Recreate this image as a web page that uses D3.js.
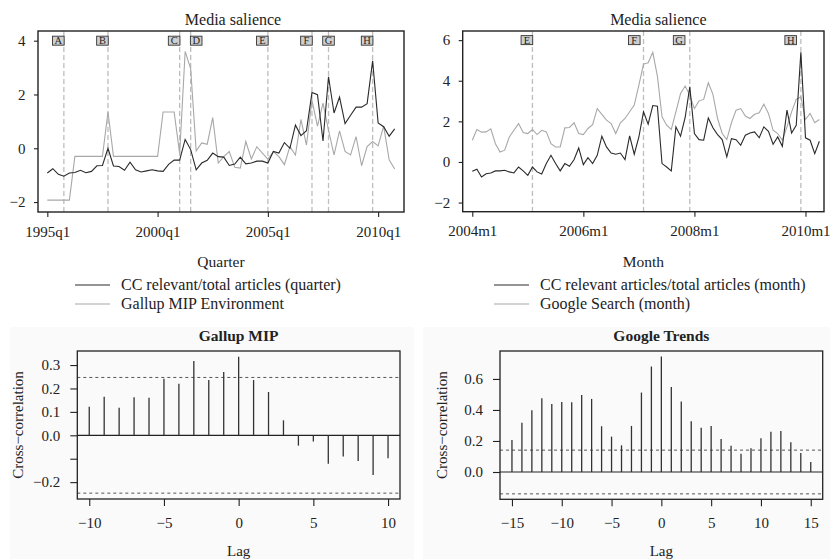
<!DOCTYPE html>
<html>
<head>
<meta charset="utf-8">
<script src="https://cdn.jsdelivr.net/npm/d3@7"></script>
<style>
  body { margin: 0; background: #fff; }
  svg { display: block; font-family: "Liberation Serif", "Times New Roman", serif; }
</style>
</head>
<body>
<svg id="fig" width="830" height="559"></svg>
<script>
// ---- Quarterly series, 1995q1 .. 2010q4 (standardised) ----
const quarterCC = [-0.92,-0.76,-0.97,-1.04,-0.92,-0.90,-0.82,-0.91,-0.86,-0.65,-0.64,0.00,-0.66,-0.68,-0.82,-0.52,
  -0.80,-0.88,-0.84,-0.80,-0.84,-0.86,-0.60,-0.44,-0.44,0.33,-0.05,-0.80,-0.55,-0.45,-0.18,-0.31,
  -0.33,-0.64,-0.59,-0.33,-0.58,-0.55,-0.48,-0.48,-0.55,-0.12,-0.18,0.21,0.00,0.86,0.47,0.65,
  2.07,1.99,0.27,2.66,1.31,1.90,0.92,1.23,1.53,1.53,1.66,3.25,0.94,0.80,0.45,0.72];
const quarterGallup = [-1.93,-1.93,-1.93,-1.93,-1.93,-0.30,-0.30,-0.30,-0.30,-0.30,-0.30,1.35,-0.30,-0.30,-0.30,-0.30,
  -0.30,-0.30,-0.30,-0.30,-0.30,1.35,1.35,1.35,-0.20,3.60,2.95,-0.10,0.20,0.15,1.14,-0.55,
  -0.31,-0.12,-0.71,-0.74,0.25,-0.40,0.06,-0.18,-0.40,-0.12,-0.31,-0.61,0.06,-0.25,1.07,0.12,
  1.78,0.82,1.68,0.67,-0.25,0.65,-0.12,-0.25,0.43,-0.65,0.06,0.25,0.09,0.82,-0.43,-0.77];
const quarterTicks = [0, 20, 40, 60];
const quarterTickLabels = ["1995q1", "2000q1", "2005q1", "2010q1"];
const quarterEvents = [3, 11, 24, 26, 40, 48, 51, 59];
const quarterEventLetters = ["A", "B", "C", "D", "E", "F", "G", "H"];
const quarterLetterAt = [2, 10, 23, 27, 39, 47, 51, 58];

// ---- Monthly series, 2004m1 .. 2010m4 (standardised) ----
const monthCC = [-0.46,-0.36,-0.74,-0.58,-0.54,-0.44,-0.44,-0.41,-0.49,-0.54,-0.25,-0.44,-0.66,-0.25,-0.49,-0.59,
  -0.08,0.33,-0.08,-0.44,-0.08,-0.21,0.12,0.69,-0.13,0.21,-0.08,0.33,1.27,0.74,0.44,0.38,
  0.44,0.12,1.28,0.38,1.23,2.47,1.86,2.78,2.75,-0.08,-0.25,-0.44,1.73,1.27,2.19,3.70,
  1.40,1.10,1.07,2.17,1.68,1.35,1.10,0.25,1.15,1.10,0.82,1.32,1.43,1.48,1.19,1.73,
  1.51,0.87,1.23,0.77,2.55,1.43,1.81,5.40,1.19,1.07,0.41,1.02];
const monthGoogle = [1.07,1.60,1.47,1.48,1.63,0.90,0.49,0.58,1.23,1.56,1.89,1.45,1.40,1.60,1.35,1.56,
  1.48,0.90,0.74,0.74,1.68,1.70,1.93,1.40,1.35,1.65,1.84,2.63,2.34,2.06,1.89,1.40,
  1.93,2.14,2.47,2.80,3.79,4.82,4.89,5.40,4.23,2.22,1.81,1.60,2.47,3.37,3.74,3.29,
  2.63,3.01,3.08,3.90,3.33,2.14,1.40,1.10,1.93,2.55,2.63,2.26,2.14,2.35,2.42,2.85,
  2.39,1.56,1.40,1.07,1.73,2.47,3.08,3.21,2.09,2.39,1.93,2.09];
const monthTicks = [0, 24, 48, 72];
const monthTickLabels = ["2004m1", "2006m1", "2008m1", "2010m1"];
const monthEvents = [13, 37, 47, 71];
const monthEventLetters = ["E", "F", "G", "H"];
const monthLetterAt = [11.8, 35, 44.7, 68.8];

// ---- Cross-correlations ----
const gallupLags = d3.range(-10, 11);
const gallupCCF = [0.122,0.165,0.118,0.163,0.160,0.242,0.220,0.317,0.236,0.270,0.335,
  0.236,0.185,0.064,-0.044,-0.026,-0.121,-0.091,-0.110,-0.170,-0.098];
const gallupCI = 0.247;
const googleLags = d3.range(-15, 16);
const googleCCF = [0.206,0.318,0.398,0.475,0.439,0.452,0.449,0.497,0.471,0.295,0.228,0.172,0.297,0.512,0.680,
  0.744,0.548,0.454,0.327,0.286,0.297,0.213,0.170,0.118,0.153,0.217,0.260,0.265,0.192,0.123,0.065];
const googleCI = 0.141;

const svg = d3.select("#fig");
svg.append("rect").attr("width", 830).attr("height", 559).attr("fill", "#fff");

const INK = "#222";
const GREY_LINE = "#a8a8a8";
const fmtMinus = s => String(s).replace("-", "\u2212");

function styleAxis(a, size) {
  a.attr("font-family", null).attr("font-size", null);
  a.select(".domain").remove();
  a.selectAll("line").attr("stroke", INK).attr("stroke-width", 1.1);
  a.selectAll("text").attr("font-size", size).attr("fill", INK);
}

function timePanel(o) {
  const x = d3.scaleLinear().domain(o.xDomain).range([o.l, o.r]);
  const y = d3.scaleLinear().domain(o.yDomain).range([o.b, o.t]);
  const g = svg.append("g");

  // event markers
  g.selectAll("line.ev").data(o.events).join("line")
    .attr("x1", d => x(d)).attr("x2", d => x(d))
    .attr("y1", o.t).attr("y2", o.b)
    .attr("stroke", "#bdbdbd").attr("stroke-width", 1.3).attr("stroke-dasharray", "5,3");

  const line = d3.line().x((d, i) => x(i)).y(d => y(d));
  g.append("path").datum(o.grey).attr("d", line)
    .attr("fill", "none").attr("stroke", GREY_LINE).attr("stroke-width", 1.1);
  g.append("path").datum(o.black).attr("d", line)
    .attr("fill", "none").attr("stroke", "#2a2a2a").attr("stroke-width", 1.1);

  // event letters
  const lab = g.selectAll("g.lab").data(o.letters).join("g")
    .attr("transform", (d, i) => `translate(${x(o.letterAt[i])},${y(o.letterY)})`);
  lab.append("rect").attr("x", -5.8).attr("y", -4.5).attr("width", 11.6).attr("height", 9)
    .attr("fill", "#cfcfcf").attr("stroke", "#333").attr("stroke-width", 0.9);
  lab.append("text").text(d => d).attr("text-anchor", "middle").attr("y", 3.6)
    .attr("font-size", 10.5).attr("fill", "#222");

  // axes
  const ax = g.append("g").attr("transform", `translate(0,${o.b})`)
    .call(d3.axisBottom(x).tickValues(o.xTicks).tickFormat((d, i) => o.xLabels[i])
      .tickSize(5).tickPadding(9).tickSizeOuter(0));
  const ay = g.append("g").attr("transform", `translate(${o.l},0)`)
    .call(d3.axisLeft(y).tickValues(o.yTicks).tickFormat(d => fmtMinus(d))
      .tickSize(4).tickPadding(8.5).tickSizeOuter(0));
  styleAxis(ax, 15);
  styleAxis(ay, 15);

  g.append("rect").attr("x", o.l).attr("y", o.t).attr("width", o.r - o.l).attr("height", o.b - o.t)
    .attr("fill", "none").attr("stroke", INK).attr("stroke-width", 1.4);

  g.append("text").text("Media salience").attr("x", (o.l + o.r) / 2 + o.titleDx).attr("y", 25)
    .attr("text-anchor", "middle").attr("font-size", 16).attr("fill", INK);
  g.append("text").text(o.xTitle).attr("x", (o.l + o.r) / 2).attr("y", 267)
    .attr("text-anchor", "middle").attr("font-size", 15.5).attr("fill", INK);

  // legend
  const leg = g.selectAll("g.leg").data(o.legend).join("g")
    .attr("transform", (d, i) => `translate(${o.legX},${285 + i * 19})`);
  leg.append("line").attr("x1", 0).attr("x2", 35)
    .attr("stroke", (d, i) => i === 0 ? "#2a2a2a" : GREY_LINE).attr("stroke-width", 1.1);
  leg.append("text").text(d => d).attr("x", 46).attr("y", 5.2)
    .attr("font-size", 16).attr("fill", INK);
}

timePanel({
  l: 38, r: 404, t: 31, b: 212,
  xDomain: [-1.69, 64.69], yDomain: [-2.37, 4.36],
  black: quarterCC, grey: quarterGallup,
  events: quarterEvents, letters: quarterEventLetters, letterAt: quarterLetterAt, letterY: 4,
  xTicks: quarterTicks, xLabels: quarterTickLabels, yTicks: [-2, 0, 2, 4],
  titleDx: 12, xTitle: "Quarter", legX: 75,
  legend: ["CC relevant/total articles (quarter)", "Gallup MIP Environment"]
});

timePanel({
  l: 462.7, r: 824, t: 31, b: 211.7,
  xDomain: [-2.07, 76.0], yDomain: [-2.45, 6.45],
  black: monthCC, grey: monthGoogle,
  events: monthEvents, letters: monthEventLetters, letterAt: monthLetterAt, letterY: 6,
  xTicks: monthTicks, xLabels: monthTickLabels, yTicks: [-2, 0, 2, 4, 6],
  titleDx: 15, xTitle: "Month", legX: 494,
  legend: ["CC relevant articles/total articles (month)", "Google Search (month)"]
});

function ccfPanel(o) {
  const g = svg.append("g");
  g.append("rect").attr("x", o.bgX0).attr("y", 327).attr("width", o.bgX1 - o.bgX0).attr("height", 232)
    .attr("fill", "#fafafa");
  const x = d3.scaleLinear().domain(o.xDomain).range([o.l, o.r]);
  const y = d3.scaleLinear().domain(o.yDomain).range([o.b, o.t]);

  g.selectAll("line.ci").data([o.ci, -o.ci]).join("line")
    .attr("x1", o.l).attr("x2", o.r).attr("y1", d => y(d)).attr("y2", d => y(d))
    .attr("stroke", "#555").attr("stroke-width", 1).attr("stroke-dasharray", "3,3");
  g.append("line").attr("x1", o.l).attr("x2", o.r).attr("y1", y(0)).attr("y2", y(0))
    .attr("stroke", INK).attr("stroke-width", 1.2);
  g.selectAll("line.bar").data(o.values).join("line")
    .attr("x1", (d, i) => x(o.lags[i])).attr("x2", (d, i) => x(o.lags[i]))
    .attr("y1", y(0)).attr("y2", d => y(d))
    .attr("stroke", "#333").attr("stroke-width", 1.3);

  const ax = g.append("g").attr("transform", `translate(0,${o.b})`)
    .call(d3.axisBottom(x).tickValues(o.xTicks).tickFormat(d => fmtMinus(d))
      .tickSize(7).tickPadding(11.5).tickSizeOuter(0));
  const ay = g.append("g").attr("transform", `translate(${o.l},0)`)
    .call(d3.axisLeft(y).tickValues(o.yTicks).tickFormat(o.yFormat)
      .tickSize(7).tickPadding(10).tickSizeOuter(0));
  styleAxis(ax, 15);
  styleAxis(ay, 15);

  g.append("rect").attr("x", o.l).attr("y", o.t).attr("width", o.r - o.l).attr("height", o.b - o.t)
    .attr("fill", "none").attr("stroke", INK).attr("stroke-width", 1.3);

  g.append("text").text(o.title).attr("x", (o.l + o.r) / 2).attr("y", 341)
    .attr("text-anchor", "middle").attr("font-size", 15.5).attr("font-weight", "bold").attr("fill", INK);
  g.append("text").text("Lag").attr("x", (o.l + o.r) / 2).attr("y", 556)
    .attr("text-anchor", "middle").attr("font-size", 15).attr("fill", INK);
  g.append("text").text("Cross\u2212correlation")
    .attr("transform", `translate(${o.yTitleX},${(o.t + o.b) / 2}) rotate(-90)`)
    .attr("text-anchor", "middle").attr("font-size", 15).attr("fill", INK);
}

ccfPanel({
  l: 77.3, r: 400, t: 351, b: 499, bgX0: 10, bgX1: 414,
  xDomain: [-10.8, 10.8], yDomain: [-0.272, 0.36],
  lags: gallupLags, values: gallupCCF, ci: gallupCI,
  xTicks: [-10, -5, 0, 5, 10], yTicks: [-0.2, -0.1, 0, 0.1, 0.2, 0.3],
  yFormat: d => Math.abs(d + 0.1) < 1e-9 ? "" : fmtMinus(d3.format(".1f")(d)),
  title: "Gallup MIP", yTitleX: 22.5
});

ccfPanel({
  l: 500, r: 822.7, t: 351, b: 499.3, bgX0: 423, bgX1: 830,
  xDomain: [-16.2, 16.2], yDomain: [-0.176, 0.78],
  lags: googleLags, values: googleCCF, ci: googleCI,
  xTicks: [-15, -10, -5, 0, 5, 10, 15], yTicks: [0, 0.2, 0.4, 0.6],
  yFormat: d => d3.format(".1f")(d),
  title: "Google Trends", yTitleX: 446.5
});
</script>
</body>
</html>
